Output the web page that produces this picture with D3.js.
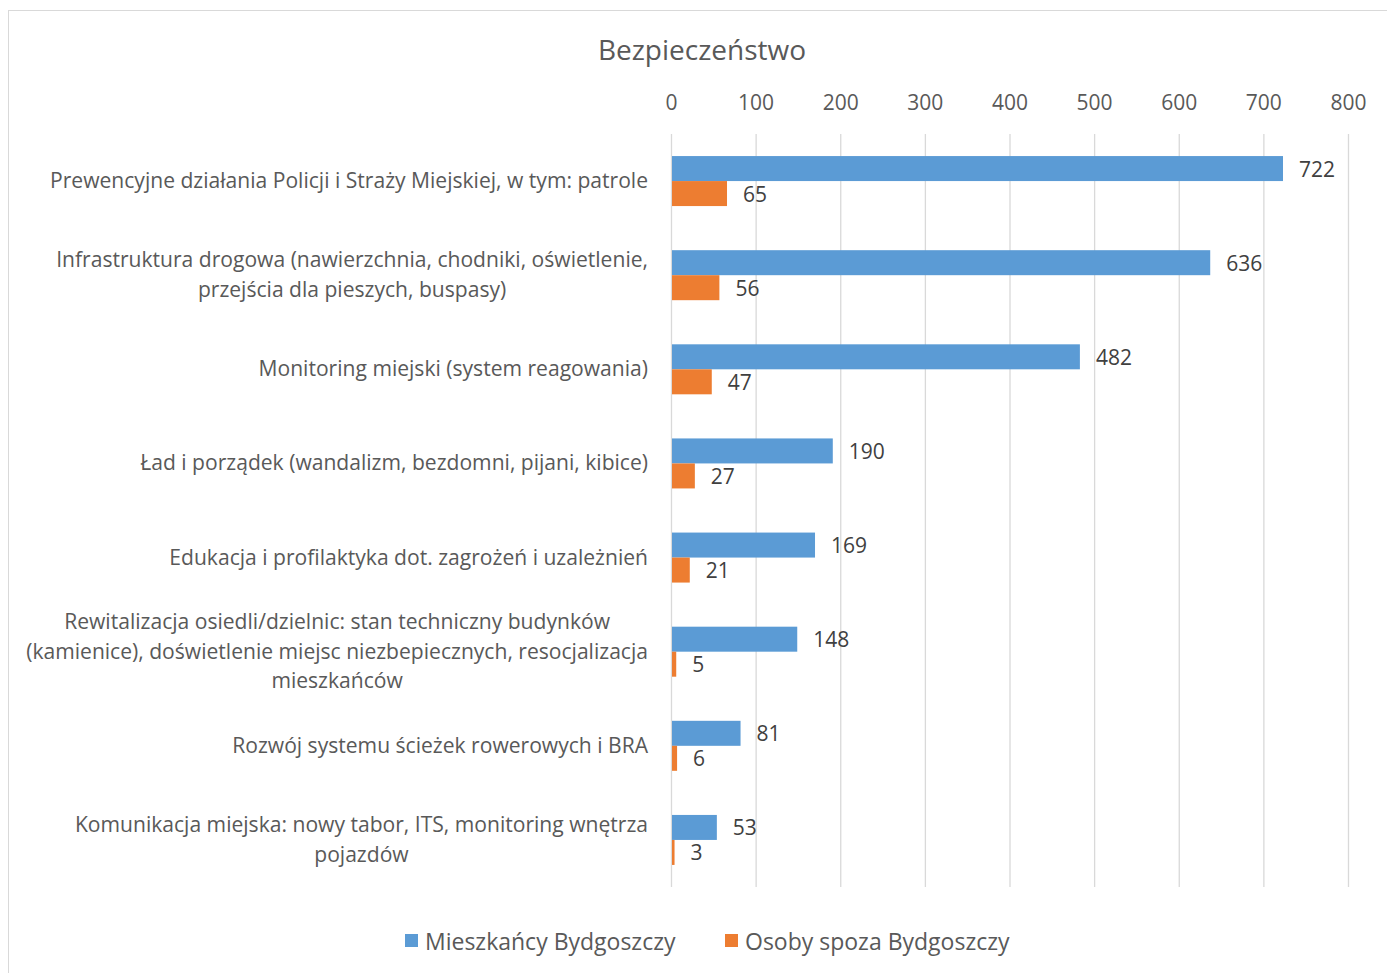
<!DOCTYPE html>
<html>
<head>
<meta charset="utf-8">
<script src="https://cdn.jsdelivr.net/npm/d3@7"></script>
<style>
  body { margin: 0; background: #fff; }
  text { font-family: "Open Sans", "Noto Sans", sans-serif; }
</style>
</head>
<body>
<svg id="chart" width="1387" height="973"></svg>
<script>
const categories = [
  ["Prewencyjne działania Policji i Straży Miejskiej, w tym: patrole"],
  ["Infrastruktura drogowa (nawierzchnia, chodniki, oświetlenie,", "przejścia dla pieszych, buspasy)"],
  ["Monitoring miejski (system reagowania)"],
  ["Ład i porządek (wandalizm, bezdomni, pijani, kibice)"],
  ["Edukacja i profilaktyka dot. zagrożeń i uzależnień"],
  ["Rewitalizacja osiedli/dzielnic: stan techniczny budynków", "(kamienice), doświetlenie miejsc niezbepiecznych, resocjalizacja", "mieszkańców"],
  ["Rozwój systemu ścieżek rowerowych i BRA"],
  ["Komunikacja miejska: nowy tabor, ITS, monitoring wnętrza", "pojazdów"]
];
const mieszkancy = [722, 636, 482, 190, 169, 148, 81, 53];
const spoza = [65, 56, 47, 27, 21, 5, 6, 3];
const seriesNames = ["Mieszkańcy Bydgoszczy", "Osoby spoza Bydgoszczy"];
const seriesColors = ["#5B9BD5", "#ED7D31"];
const xTicks = [0, 100, 200, 300, 400, 500, 600, 700, 800];

const svg = d3.select("#chart");

// chart border
svg.append("rect")
  .attr("x", 8.5).attr("y", 10.5)
  .attr("width", 1400).attr("height", 1000)
  .attr("fill", "none")
  .attr("stroke", "#d9d9d9");

// title
svg.append("text")
  .attr("x", 702).attr("y", 60)
  .attr("text-anchor", "middle")
  .attr("font-size", 28)
  .attr("fill", "#595959")
  .text("Bezpieczeństwo");

const x = d3.scaleLinear().domain([0, 800]).range([671, 1348]);
const y = d3.scaleBand().domain(d3.range(categories.length)).range([134, 887]);
const inner = d3.scaleBand().domain([0, 1]).range([0, 50]);
const groupOffset = (y.bandwidth() - 50) / 2;

// gridlines
svg.append("g")
  .selectAll("line")
  .data(xTicks)
  .enter()
  .append("line")
  .attr("x1", d => x(d) + 0.5).attr("x2", d => x(d) + 0.5)
  .attr("y1", 134).attr("y2", 887)
  .attr("stroke", "#d9d9d9")
  .attr("stroke-width", 1.3);

// top axis labels
const xAxis = svg.append("g")
  .attr("transform", "translate(0,110)")
  .call(d3.axisTop(x).tickValues(xTicks).tickSize(0).tickPadding(0));
xAxis.select(".domain").remove();
xAxis.selectAll("text")
  .attr("font-size", 21)
  .attr("font-family", "Open Sans, sans-serif")
  .attr("fill", "#595959");

// category labels
const labels = svg.append("g");
const labelGroups = labels.selectAll("g")
  .data(categories)
  .enter()
  .append("g");

const lineH = 29.5;
const labelTexts = labelGroups.append("text")
  .attr("font-size", 20)
  .attr("fill", "#595959")
  .attr("text-anchor", "middle");
labelTexts.each(function(lines, i) {
  const t = d3.select(this);
  const cy = y(i) + y.bandwidth() / 2;
  lines.forEach((ln, j) => {
    t.append("tspan")
      .attr("y", cy + (j - (lines.length - 1) / 2) * lineH + 7)
      .text(ln);
  });
});

// fit font size so the widest line is ~622px
let maxW = 0;
labelTexts.selectAll("tspan").each(function() {
  maxW = Math.max(maxW, this.getComputedTextLength());
});
const fs = 20 * 622 / maxW;
labelTexts.attr("font-size", fs);
labelTexts.each(function() {
  const t = d3.select(this);
  let w = 0;
  t.selectAll("tspan").each(function() { w = Math.max(w, this.getComputedTextLength()); });
  t.selectAll("tspan").attr("x", 648 - w / 2);
});

// bars
const data = [mieszkancy, spoza];
data.forEach((vals, s) => {
  const g = svg.append("g");
  g.selectAll("rect")
    .data(vals)
    .enter()
    .append("rect")
    .attr("x", x(0) + 1)
    .attr("y", (d, i) => y(i) + groupOffset + inner(s))
    .attr("width", d => x(d) - x(0))
    .attr("height", inner.bandwidth())
    .attr("fill", seriesColors[s]);

  g.selectAll("text")
    .data(vals)
    .enter()
    .append("text")
    .attr("x", d => x(d) + 17)
    .attr("y", (d, i) => y(i) + groupOffset + inner(s) + inner.bandwidth() / 2 + 8)
    .attr("font-size", 21)
    .attr("fill", "#404040")
    .text(d => d);
});

// legend
const legendX = [405, 725];
const legend = svg.append("g");
seriesNames.forEach((name, s) => {
  legend.append("rect")
    .attr("x", legendX[s]).attr("y", 934)
    .attr("width", 13).attr("height", 13)
    .attr("fill", seriesColors[s]);
  legend.append("text")
    .attr("x", legendX[s] + 20).attr("y", 950)
    .attr("font-size", 23)
    .attr("fill", "#595959")
    .text(name);
});
</script>
</body>
</html>
